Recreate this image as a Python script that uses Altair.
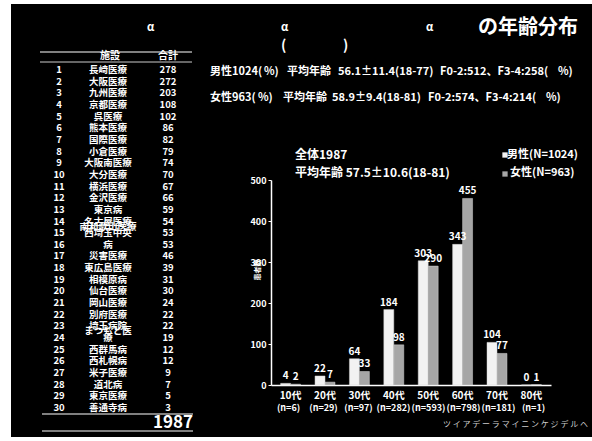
import altair as alt
import pandas as pd

# ---------------- data ----------------
ages = ["10代", "20代", "30代", "40代", "50代", "60代", "70代", "80代"]
male = [4, 22, 64, 184, 303, 343, 104, 0]
female = [2, 7, 33, 98, 290, 455, 77, 1]
n_counts = [6, 29, 97, 282, 593, 798, 181, 1]
sexes = ["男性", "女性"]

ranks = list(range(1, 31))
facilities = ["長崎医療", "大阪医療", "九州医療", "京都医療", "呉医療", "熊本医療",
              "国際医療", "小倉医療", "大阪南医療", "大分医療", "横浜医療", "金沢医療",
              "東京病", "名古屋医療", "西埼玉中央", "病", "災害医療", "東広島医療",
              "相模原病", "仙台医療", "岡山医療", "別府医療", "埼玉病院", "療",
              "西群馬病", "西札幌病", "米子医療", "道北病", "東京医療", "善通寺病"]
totals = [278, 272, 203, 108, 102, 86, 82, 79, 74, 70, 67, 66, 59, 54, 53, 53,
          46, 39, 31, 30, 24, 22, 22, 19, 12, 12, 9, 7, 5, 3]
overlay_rows = [14, 23]
overlay_names = ["南和歌山医療", "まつもと医"]
grand_total = "1987"

male_line = ["男性1024(", "%)", "平均年齢", "56.1±11.4(18-77)", "F0-2:512、F3-4:258(", "%)"]
female_line = ["女性963(", "%)", "平均年齢", "58.9±9.4(18-81)", "F0-2:574、F3-4:214(", "%)"]

FONT = "Noto Sans CJK JP"
PL, PT = 11, 4  # padding left/top of the black panel

bars_df = pd.DataFrame({
    "age": ages * 2,
    "sex": [sexes[0]] * len(ages) + [sexes[1]] * len(ages),
    "value": male + female,
})
n_df = pd.DataFrame({"age": ages, "n": [f"(n={v})" for v in n_counts]})
table_df = pd.DataFrame({"rank": ranks, "name": facilities, "total": totals})
overlay_df = pd.DataFrame({"rank": overlay_rows, "name": overlay_names})


def xs():
    return alt.Scale(domain=ages, range=[260, 540], paddingInner=0.42, paddingOuter=0.28)


def ys():
    return alt.Scale(domain=[0, 500], range=[381, 176], nice=False, zero=True)


def rs():
    return alt.Scale(domain=[1, 30], range=[66, 404], nice=False, zero=False)


off_scale = alt.Scale(domain=sexes)

bars = alt.Chart(bars_df).mark_bar(stroke="#d0d0d0", strokeWidth=0.5).encode(
    x=alt.X("age:N", sort=ages, scale=xs(), axis=alt.Axis(
        orient="bottom", offset=-52, title=None, labelAngle=0, ticks=False,
        domainColor="white", domainWidth=1.5, labelColor="white", labelFont=FONT,
        labelFontSize=10, labelFontWeight="bold", labelPadding=5, grid=False)),
    xOffset=alt.XOffset("sex:N", sort=sexes, scale=off_scale),
    y=alt.Y("value:Q", scale=ys(), axis=alt.Axis(
        orient="left", offset=-260, title=None, values=[0, 100, 200, 300, 400, 500],
        tickSize=3, tickColor="white", domainColor="white", domainWidth=1.5,
        labelColor="white", labelFont=FONT, labelFontSize=9, labelFontWeight="bold",
        labelPadding=2, grid=False)),
    color=alt.Color("sex:N", scale=alt.Scale(domain=sexes, range=["#f2f2f2", "#a6a6a6"]),
                    legend=None),
)

value_labels = alt.Chart(bars_df).mark_text(
    color="white", font=FONT, fontSize=10, fontWeight="bold", dy=-7
).encode(
    x=alt.X("age:N", sort=ages, scale=xs(), axis=None),
    xOffset=alt.XOffset("sex:N", sort=sexes, scale=off_scale),
    y=alt.Y("value:Q", scale=ys(), axis=None),
    text="value:Q",
)

n_labels = alt.Chart(n_df).mark_text(
    color="white", font=FONT, fontSize=9, fontWeight="bold"
).encode(
    x=alt.X("age:N", sort=ages, scale=xs(), axis=None),
    y=alt.value(408 - PT),
    text="n:N",
)

TS = 9.5  # table font size


def table_col(field, xpos, align="center"):
    return alt.Chart(table_df).mark_text(
        color="white", font=FONT, fontSize=TS, fontWeight="bold", align=align,
        baseline="middle"
    ).encode(
        x=alt.value(xpos - PL),
        y=alt.Y("rank:Q", scale=rs(), axis=None),
        text=f"{field}:N",
    )


col_rank = table_col("rank", 59)
col_name = table_col("name", 108)
col_total = table_col("total", 168)
col_overlay = alt.Chart(overlay_df).mark_text(
    color="white", font=FONT, fontSize=TS, fontWeight="bold", baseline="middle", dy=5
).encode(
    x=alt.value(108 - PL),
    y=alt.Y("rank:Q", scale=rs(), axis=None),
    text="name:N",
)


def txt(t, x, y, size=10, align="left", color="white", weight="bold", angle=0,
        baseline="middle"):
    kw = dict(color=color, font=FONT, fontSize=size, fontWeight=weight, align=align,
              baseline=baseline)
    if angle:
        kw["angle"] = angle
    return alt.Chart(pd.DataFrame({"t": [t]})).mark_text(**kw).encode(
        x=alt.value(x - PL), y=alt.value(y - PT), text="t:N")


def hline(x1, x2, y, w=1.2):
    return alt.Chart(pd.DataFrame({"a": [0]})).mark_rule(color="white", strokeWidth=w).encode(
        x=alt.value(x1 - PL), x2=alt.value(x2 - PL), y=alt.value(y - PT))


def square(x, y, color):
    return alt.Chart(pd.DataFrame({"a": [0]})).mark_square(
        color=color, size=28, opacity=1).encode(x=alt.value(x - PL), y=alt.value(y - PT))


male_x = [210, 264, 287, 338, 440, 558]
female_x = [210, 258, 283, 332, 428, 546]

texts = [
    txt("α", 147, 28, 11), txt("α", 281, 28, 11), txt("α", 426, 28, 11),
    txt("の年齢分布", 478, 28, 20),
    txt("(", 281, 46, 14), txt(")", 343, 46, 14),
    txt("施設", 110, 56, 10, "center"), txt("合計", 168, 56, 10, "center"),
    txt(grand_total, 193, 423, 17, "right"),
    txt("全体1987", 295, 155, 12),
    txt("平均年齢  57.5±10.6(18-81)", 295, 173, 12),
    txt("男性(N=1024)", 507, 155, 11),
    txt("女性(N=963)", 510, 173, 11),
    txt("患者数", 258, 270, 7, "center", angle=270),
    txt("ツ イ ア デ ー ラ マ イ ニ ン ケ ジ デ ル ヘ", 588, 425, 8, "right",
        color="#cccccc", weight="normal"),
]
texts += [txt(s, x, 72, 11) for s, x in zip(male_line, male_x)]
texts += [txt(s, x, 98, 11) for s, x in zip(female_line, female_x)]

lines = [hline(40, 192, 52), hline(40, 192, 62, 0.8), hline(42, 193, 414),
         hline(42, 193, 431)]
legend_marks = [square(505, 155, "#f2f2f2"), square(505, 174, "#a6a6a6")]

chart = alt.layer(
    bars, value_labels, n_labels, col_rank, col_name, col_total, col_overlay,
    *lines, *legend_marks, *texts
).resolve_scale(
    x="independent", y="independent"
).properties(
    width=592 - PL, height=441 - PT - 4,
    padding={"left": PL, "top": PT, "right": 0, "bottom": 4},
    autosize="none",
).configure(
    background="white"
).configure_view(
    fill="black", stroke=None
)

chart.save("out.html", embed_options={"renderer": "svg", "actions": False})
